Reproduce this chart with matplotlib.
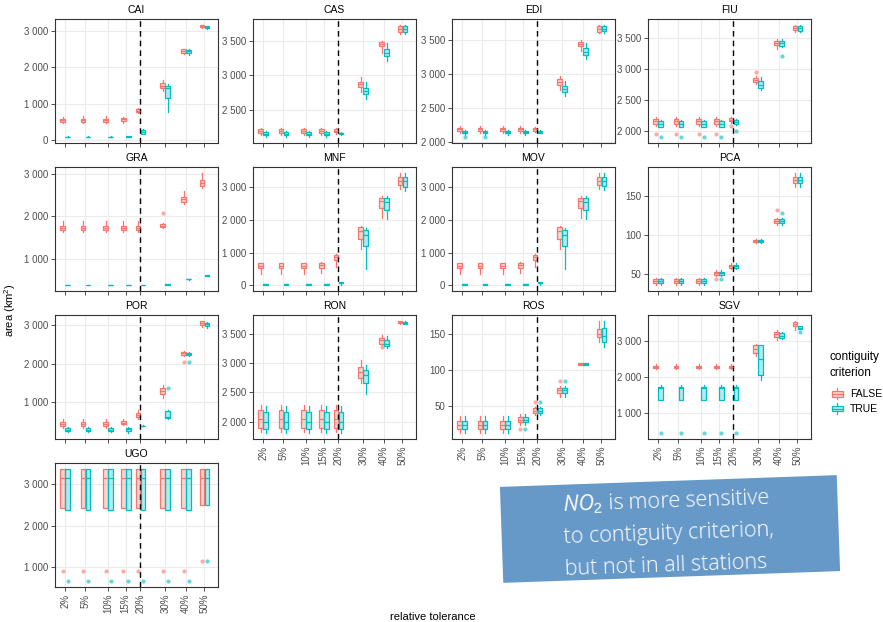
import numpy as np
import matplotlib
matplotlib.use("Agg")
import matplotlib.pyplot as plt
from matplotlib.patches import Rectangle, Patch
from matplotlib.lines import Line2D
from matplotlib.legend_handler import HandlerBase
from matplotlib.ticker import MultipleLocator, FuncFormatter

plt.rcParams["font.family"] = ["Liberation Sans", "DejaVu Sans"]
plt.rcParams["mathtext.fontset"] = "custom"
plt.rcParams["mathtext.rm"] = "Liberation Sans"
plt.rcParams["mathtext.it"] = "Open Sans:italic"

tolerance = [2, 5, 10, 15, 20, 30, 40, 50]
tick_labels = ["2%", "5%", "10%", "15%", "20%", "30%", "40%", "50%"]
stations = ["CAI", "CAS", "EDI", "FIU", "GRA", "MNF", "MOV", "PCA",
            "POR", "RON", "ROS", "SGV", "UGO"]
y_step = [1000, 500, 500, 500, 1000, 1000, 1000, 50, 1000, 500, 50, 1000, 1000]

# (lower whisker, q1, median, q3, upper whisker) per tolerance
cai_false = [(460, 495, 540, 590, 640), (460, 495, 540, 590, 650), (460, 495, 540, 590, 650),
             (480, 520, 570, 610, 630), (740, 760, 800, 850, 880), (1350, 1420, 1500, 1580, 1650),
             (2380, 2400, 2450, 2500, 2520), (3100, 3120, 3150, 3170, 3180)]
cai_true = [(70, 78, 85, 92, 100), (70, 78, 85, 92, 100), (70, 78, 85, 92, 100),
            (75, 82, 90, 95, 105), (150, 170, 220, 270, 290), (780, 1150, 1430, 1500, 1550),
            (2350, 2390, 2440, 2480, 2500), (3070, 3090, 3110, 3130, 3140)]

cas_false = [(2135, 2170, 2195, 2215, 2235)] * 4 + [
    (2150, 2175, 2195, 2215, 2230), (2750, 2825, 2865, 2905, 2970),
    (3320, 3415, 3450, 3480, 3500), (3600, 3625, 3665, 3710, 3730)]
cas_true = [(2100, 2135, 2155, 2175, 2190)] * 4 + [
    (2140, 2145, 2160, 2170, 2180), (2650, 2730, 2775, 2815, 2905),
    (3205, 3270, 3320, 3380, 3470), (3600, 3630, 3670, 3710, 3730)]

edi_false = [(2135, 2170, 2195, 2215, 2235)] * 4 + [
    (2150, 2175, 2195, 2215, 2230), (2770, 2840, 2885, 2925, 2980),
    (3340, 3410, 3440, 3470, 3500), (3600, 3625, 3665, 3710, 3730)]
edi_true = [(2110, 2135, 2155, 2170, 2185)] * 4 + [
    (2140, 2145, 2160, 2170, 2180), (2680, 2745, 2790, 2830, 2900),
    (3230, 3290, 3330, 3380, 3460), (3610, 3640, 3670, 3710, 3730)]

fiu_false = [(2086, 2108, 2167, 2199, 2226)] * 4 + [
    (2130, 2156, 2183, 2210, 2226), (2763, 2796, 2828, 2860, 2892),
    (3322, 3398, 3430, 3462, 3495), (3597, 3634, 3667, 3693, 3720)]
fiu_true = [(2059, 2070, 2118, 2161, 2183)] * 4 + [
    (2100, 2113, 2145, 2172, 2190), (2656, 2688, 2747, 2801, 2871),
    (3355, 3371, 3419, 3457, 3489), (3597, 3624, 3661, 3699, 3720)]

gra_false = [(1630, 1670, 1720, 1775, 1880)] * 5 + [
    (1727, 1740, 1775, 1822, 1840), (2288, 2336, 2399, 2447, 2597),
    (2668, 2715, 2779, 2858, 3032)]
gra_true = [(365, 370, 375, 380, 385)] * 5 + [
    (380, 385, 391, 396, 400), (500, 505, 510, 515, 520), (585, 590, 597, 603, 610)]

mnf_false = [(355, 530, 600, 670, 690)] * 3 + [
    (370, 540, 610, 680, 700), (567, 780, 861, 932, 962), (1114, 1418, 1651, 1783, 1823),
    (2056, 2350, 2563, 2684, 2715), (2938, 3059, 3201, 3323, 3444)]
mnf_true = [(15, 22, 30, 38, 45)] * 4 + [
    (0, 65, 80, 90, 100), (486, 1195, 1550, 1702, 1742),
    (2026, 2310, 2533, 2684, 2715), (2897, 3019, 3191, 3323, 3444)]

mov_false = [(355, 530, 600, 670, 690)] * 3 + [
    (370, 540, 610, 680, 700), (570, 780, 860, 930, 960), (1120, 1420, 1650, 1780, 1820),
    (2060, 2350, 2560, 2680, 2720), (2940, 3060, 3200, 3320, 3440)]
mov_true = [(15, 22, 30, 38, 45)] * 4 + [
    (0, 65, 80, 90, 100), (490, 1200, 1550, 1700, 1740),
    (2030, 2310, 2530, 2680, 2720), (2900, 3020, 3190, 3320, 3440)]

pca_false = [(35, 38, 40.6, 43, 45)] * 3 + [
    (46.6, 48.3, 50.4, 52.6, 54.7), (56.4, 57.7, 59.4, 61.6, 63.7), (89, 90.3, 92, 93.8, 95),
    (112.7, 114.4, 117.8, 120.4, 121.7), (161, 166.7, 170.6, 174.5, 179.6)]
pca_true = [(35, 38, 40.6, 43, 45)] * 3 + [
    (46.6, 48.3, 50.4, 52.6, 54.7), (56.4, 57.7, 59.4, 61.6, 63.7), (89, 90.3, 92, 93.8, 95),
    (112.7, 114.4, 117, 119.8, 121), (161, 166.7, 170.6, 174.5, 179.6)]

por_false = [(328, 379, 430, 481, 557)] * 3 + [
    (396, 430, 472, 515, 557), (566, 617, 677, 728, 787), (1111, 1213, 1298, 1374, 1451),
    (2200, 2220, 2260, 2300, 2330), (2950, 2990, 3050, 3100, 3110)]
por_true = [(226, 260, 285, 319, 345)] * 3 + [
    (191, 260, 302, 319, 345), (375, 380, 387, 392, 397), (566, 590, 610, 780, 804),
    (2200, 2215, 2240, 2270, 2290), (2920, 2960, 3010, 3060, 3080)]

ron_false = [(1830, 1900, 2050, 2200, 2280)] * 5 + [
    (2660, 2740, 2840, 2940, 3050), (3310, 3330, 3390, 3430, 3480),
    (3670, 3680, 3700, 3715, 3725)]
ron_true = [(1800, 1870, 2000, 2170, 2260)] * 5 + [
    (2480, 2660, 2790, 2880, 2960), (3260, 3300, 3330, 3400, 3460),
    (3660, 3675, 3690, 3705, 3715)]

ros_false = [(12, 18, 23, 29, 36)] * 3 + [
    (24, 28, 31, 35, 39), (38, 40, 43, 47, 49), (63, 68, 72, 75, 78),
    (106, 107, 108, 109, 110), (138, 145, 150, 157, 168)]
ros_true = [(12, 18, 23, 29, 36)] * 3 + [
    (24, 28, 31, 35, 39), (38, 40, 43, 47, 49), (63, 68, 72, 75, 78),
    (106, 107, 108, 109, 110), (131, 138, 147, 158, 168)]

sgv_false = [(2210, 2250, 2280, 2310, 2350)] * 5 + [
    (2583, 2676, 2769, 2880, 2926), (3028, 3111, 3204, 3269, 3324),
    (3324, 3417, 3472, 3528, 3574)]
sgv_true = [(1352, 1352, 1694, 1722, 1778)] * 5 + [
    (1907, 2046, 2509, 2880, 2880), (3050, 3083, 3157, 3231, 3260),
    (3343, 3343, 3380, 3417, 3417)]

ugo_false = [(2433, 2433, 3162, 3380, 3380)] * 7 + [(2498, 2498, 3162, 3380, 3380)]
ugo_true = [(2368, 2368, 3162, 3380, 3380)] * 7 + [(2510, 2510, 3162, 3380, 3380)]

# outliers as (tolerance, value)
out_false = {
    "FIU": [(2, 1957), (5, 1957), (10, 1957), (15, 1957), (20, 2086), (30, 2962)],
    "GRA": [(30, 2067)],
    "PCA": [(15, 43.6), (40, 132)],
    "POR": [(40, 2050)],
    "RON": [(40, 3270)],
    "ROS": [(15, 18), (20, 55.6), (30, 84)],
    "UGO": [(t, 903) for t in tolerance[:7]] + [(50, 1146)],
}
out_true = {
    "EDI": [(2, 2075), (5, 2075)],
    "FIU": [(2, 1898), (5, 1898), (10, 1898), (15, 1898), (20, 2000), (40, 3215)],
    "PCA": [(15, 43.6), (40, 128)],
    "POR": [(30, 1366), (40, 2040)],
    "ROS": [(15, 18), (20, 55.6), (30, 84)],
    "SGV": [(t, 426) for t in tolerance[:5]] + [(50, 3259)],
    "UGO": [(t, 652) for t in tolerance[:7]] + [(50, 1146)],
}

summaries = {
    "CAI": (cai_false, cai_true), "CAS": (cas_false, cas_true), "EDI": (edi_false, edi_true),
    "FIU": (fiu_false, fiu_true), "GRA": (gra_false, gra_true), "MNF": (mnf_false, mnf_true),
    "MOV": (mov_false, mov_true), "PCA": (pca_false, pca_true), "POR": (por_false, por_true),
    "RON": (ron_false, ron_true), "ROS": (ros_false, ros_true), "SGV": (sgv_false, sgv_true),
    "UGO": (ugo_false, ugo_true),
}

red, cyan = "#F8766D", "#00BFC4"
fill_red = (248 / 255, 118 / 255, 109 / 255, 0.3)
fill_cyan = (0, 191 / 255, 196 / 255, 0.3)

W, H = 883, 622
col_x = [55, 253, 452, 648]
row_y = [19, 167, 315, 463]
pw, ph = 163, 124

# x axis runs on a square-root scale
xpos = np.sqrt(tolerance)
fmt = FuncFormatter(lambda v, p: f"{v:,.0f}".replace(",", " "))

fig = plt.figure(figsize=(8.83, 6.22), dpi=100)

for i, name in enumerate(stations):
    r, c = divmod(i, 4)
    ax = fig.add_axes([col_x[c] / W, 1 - (row_y[r] + ph) / H, pw / W, ph / H])
    groups = [(summaries[name][0], out_false.get(name, []), red, fill_red, -0.1),
              (summaries[name][1], out_true.get(name, []), cyan, fill_cyan, 0.1)]
    for summ, outl, col, fill, off in groups:
        stats = []
        for t, s in zip(tolerance, summ):
            stats.append(dict(whislo=s[0], q1=s[1], med=s[2], q3=s[3], whishi=s[4],
                              fliers=[v for tt, v in outl if tt == t]))
        ax.bxp(stats, positions=xpos + off, widths=0.19, patch_artist=True,
               showcaps=False, manage_ticks=False,
               boxprops=dict(facecolor=fill, edgecolor=col, linewidth=0.9),
               medianprops=dict(color=col, linewidth=0.9),
               whiskerprops=dict(color=col, linewidth=0.9),
               flierprops=dict(marker="o", markersize=3, markerfacecolor=col,
                               markeredgecolor="none", alpha=0.6))
    ax.axvline(np.sqrt(20), color="black", linestyle=(0, (4, 3)), linewidth=1)

    ax.set_xlim(1.0, 7.62)
    ax.margins(y=0.05)
    ax.set_xticks(xpos)
    if i >= 9:
        ax.set_xticklabels(tick_labels, rotation=90)
    else:
        ax.set_xticklabels([])
    ax.yaxis.set_major_locator(MultipleLocator(y_step[i]))
    ax.yaxis.set_major_formatter(fmt)
    ax.grid(True, color="#EBEBEB", linewidth=0.8)
    ax.set_axisbelow(True)
    for sp in ax.spines.values():
        sp.set_color("#333333")
        sp.set_linewidth(0.8)
    ax.tick_params(length=3, width=0.6, color="#333333", labelsize=7,
                   labelcolor="#4D4D4D", pad=2)
    ax.set_title(name, fontsize=7.5, pad=4)

fig.text(10 / W, 1 - 310 / H, "area (km$^2$)", rotation=90, ha="center", va="center", fontsize=8)
fig.text(433 / W, 1 - 617 / H, "relative tolerance", ha="center", va="center", fontsize=8)


class BoxKey(HandlerBase):
    # legend key drawn as a small boxplot glyph
    def create_artists(self, legend, orig_handle, xdescent, ydescent, width, height,
                       fontsize, trans):
        col = orig_handle.get_edgecolor()
        fill = orig_handle.get_facecolor()
        x0, y0 = -xdescent, -ydescent
        box = Rectangle((x0 + 0.1 * width, y0 + 0.25 * height), 0.8 * width, 0.5 * height,
                        facecolor=fill, edgecolor=col, linewidth=0.9, transform=trans)
        cx = x0 + width / 2
        med = Line2D([x0 + 0.1 * width, x0 + 0.9 * width], [y0 + height / 2] * 2,
                     color=col, linewidth=0.9, transform=trans)
        top = Line2D([cx, cx], [y0 + 0.75 * height, y0 + height], color=col, linewidth=0.9,
                     transform=trans)
        bot = Line2D([cx, cx], [y0, y0 + 0.25 * height], color=col, linewidth=0.9,
                     transform=trans)
        return [box, med, top, bot]


fig.text(829 / W, 1 - 365 / H, "contiguity\ncriterion", ha="left", va="center",
         fontsize=8.5, linespacing=1.35)
handles = [Patch(facecolor=fill_red, edgecolor=red), Patch(facecolor=fill_cyan, edgecolor=cyan)]
fig.legend(handles, ["FALSE", "TRUE"], loc="upper left",
           bbox_to_anchor=(829 / W, 1 - 387 / H), frameon=False, fontsize=7.5,
           handler_map={Patch: BoxKey()}, borderpad=0.1, borderaxespad=0,
           handlelength=1.4, handleheight=1.3, handletextpad=0.5, labelspacing=0.34)

# rotated note box
cx, cy = 670 / 100, (H - 529) / 100
note = Rectangle((cx - 1.685, cy - 0.48), 3.37, 0.96, angle=2, rotation_point="center",
                 transform=fig.dpi_scale_trans, facecolor="#6699C8", edgecolor="none")
fig.add_artist(note)
fig.text(669 / W, 1 - 533 / H,
         "$\\mathit{NO}_2$ is more sensitive\nto contiguity criterion,\nbut not in all stations",
         rotation=2, rotation_mode="anchor", ha="center", va="center", color="white",
         fontsize=15.5, family="Open Sans", fontweight="light", linespacing=1.64,
         multialignment="left")

fig.savefig("out.png", dpi=100)
